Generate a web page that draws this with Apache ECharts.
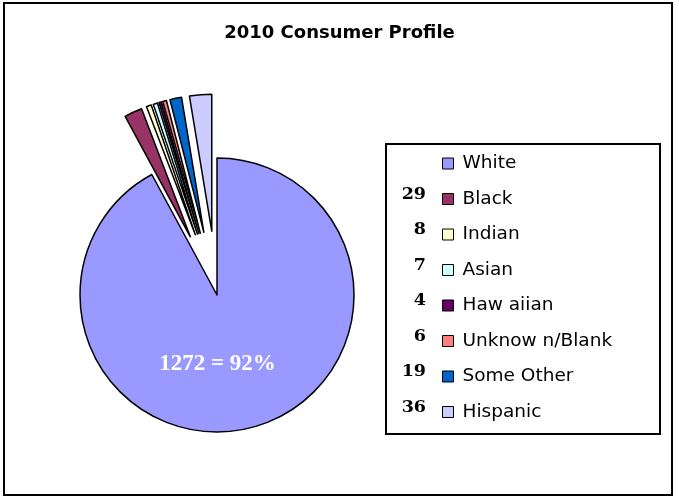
<!DOCTYPE html>
<html><head><meta charset="utf-8">
<script src="https://cdn.jsdelivr.net/npm/echarts@6/dist/echarts.min.js"></script>
<style>html,body{margin:0;padding:0;background:#fff}#c{width:679px;height:497px}</style>
</head><body><div id="c"></div>
<script>
const categories = ['White','Black','Indian','Asian','Haw aiian','Unknow n/Blank','Some Other','Hispanic'];
const values = [1272, 29, 8, 7, 4, 6, 19, 36];
const legendNumbers = ['', '29', '8', '7', '4', '6', '19', '36'];
const colors = ['#9999FF','#993366','#FFFFCC','#CCFFFF','#660066','#FF8080','#0066CC','#CCCCFF'];

const chart = echarts.init(document.getElementById('c'));
const firstRowCenter = 163.5, rowStep = 35.5, rowH = 20;
const graphics = [
  {type:'rect', shape:{x:4,y:3,width:668,height:492}, style:{fill:'none',stroke:'#000',lineWidth:2}, z:-1},
  {type:'rect', shape:{x:386,y:144,width:274,height:290}, style:{fill:'#fff',stroke:'#000',lineWidth:2}, z:-1}
];
legendNumbers.forEach((n,i)=>{
  if(!n) return;
  graphics.push({type:'text', x:426, y: firstRowCenter + i*rowStep - 5,
    style:{text:n, fill:'#000', font:'bold 17.5px "DejaVu Serif", "Liberation Serif", serif', textAlign:'right', textVerticalAlign:'middle'}});
});

chart.setOption({
  animation:false,
  title:{text:'2010 Consumer Profile', left:'center', top:24, padding:0,
    textStyle:{fontFamily:'"DejaVu Sans", sans-serif', fontWeight:'bold', fontSize:18, color:'#000'}},
  color: colors,
  legend:{orient:'vertical', left:442, top:firstRowCenter - rowH/2, padding:0,
    itemWidth:11, itemHeight:11, itemGap:rowStep - rowH,
    icon:'rect', selectedMode:false,
    itemStyle:{borderColor:'#000', borderWidth:1},
    textStyle:{fontFamily:'"DejaVu Sans", sans-serif', fontSize:18.5, color:'#000', lineHeight:rowH, padding:[0,0,0,4]}},
  graphic: graphics,
  series:[{
    type:'pie', center:[217,295], radius:137, startAngle:90, clockwise:true,
    selectedMode:'multiple', selectedOffset:64,
    itemStyle:{borderColor:'#000', borderWidth:1.5},
    emphasis:{disabled:true},
    labelLine:{show:false},
    data: categories.map((c,i)=>({
      name:c, value:values[i], selected: i>0,
      label: i===0 ? {show:true, position:'inside', formatter:(p)=>p.value+' = '+Math.round(p.percent)+'%',
        color:'#fff', fontWeight:'bold', fontSize:23, fontFamily:'"Liberation Serif", "DejaVu Serif", serif', offset:[-17,0]} : {show:false}
    }))
  }]
});
</script></body></html>
